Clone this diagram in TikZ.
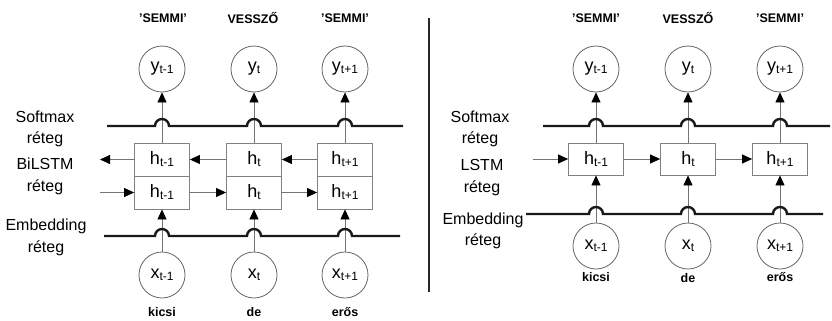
\documentclass[tikz,border=0pt]{standalone}
\usepackage{fontspec}
\setmainfont{Liberation Sans}
\usetikzlibrary{arrows.meta}
\newcommand{\sublab}[2]{{\fontsize{18}{18}\selectfont #1}{\fontsize{12}{12}\selectfont\raisebox{-2pt}{#2}}}
\newcommand{\sq}{\symbol{39}}
\begin{document}
\begin{tikzpicture}[x=1pt,y=-1pt,
  layerline/.style={line width=2.4pt, black!90},
  conn/.style={draw=black!55, line width=0.8pt},
  arr/.style={conn, -{Triangle[length=10pt,width=9pt,color=black]}},
  ucirc/.style={circle, draw=black!60, line width=0.8pt, minimum size=46pt, inner sep=0pt},
  hcell/.style={draw=black!50, line width=0.8pt, minimum width=55pt, minimum height=33pt, inner sep=0pt},
  layerlab/.style={align=center, font=\fontsize{16}{21.5}\selectfont},
  toptag/.style={font=\bfseries\fontsize{12.5}{12.5}\selectfont}]
\useasboundingbox (0,0) rectangle (832,321);

% ---------------- LEFT: BiLSTM ----------------
\node[toptag] (tl1) at (163,18) {\sq SEMMI\sq};
\node[toptag] (tl2) at (253,18) {VESSZŐ};
\node[toptag] (tl3) at (345,18) {\sq SEMMI\sq};

\node[ucirc] (yl1) at (162,69) {\sublab{y}{t-1}};
\node[ucirc] (yl2) at (254,69) {\sublab{y}{t}};
\node[ucirc] (yl3) at (345,69) {\sublab{y}{t+1}};

\node[hcell] (hbl1) at (162,159.5) {\sublab{h}{t-1}};
\node[hcell] (hbl2) at (254,159.5) {\sublab{h}{t}};
\node[hcell] (hbl3) at (345,159.5) {\sublab{h}{t+1}};
\node[hcell] (hfl1) at (162,192.5) {\sublab{h}{t-1}};
\node[hcell] (hfl2) at (254,192.5) {\sublab{h}{t}};
\node[hcell] (hfl3) at (345,192.5) {\sublab{h}{t+1}};

\node[ucirc] (xl1) at (162,275) {\sublab{x}{t-1}};
\node[ucirc] (xl2) at (254,275) {\sublab{x}{t}};
\node[ucirc] (xl3) at (345,275) {\sublab{x}{t+1}};

\node[toptag] (wl1) at (162,312) {kicsi};
\node[toptag] (wl2) at (254,312) {de};
\node[toptag] (wl3) at (345,312) {erős};

\node[layerlab] (ll1) at (45,128.7) {Softmax\\réteg};
\node[layerlab] (ll2) at (45,176.2) {BiLSTM\\réteg};
\node[layerlab] (ll3) at (46,237.2) {Embedding\\réteg};

\draw[arr] (hbl1.north) -- (yl1.south);
\draw[arr] (hbl2.north) -- (yl2.south);
\draw[arr] (hbl3.north) -- (yl3.south);
\draw[arr] (xl1.north) -- (hfl1.south);
\draw[arr] (xl2.north) -- (hfl2.south);
\draw[arr] (xl3.north) -- (hfl3.south);

\coordinate (bout) at (100,159.5);
\coordinate (fin) at (100,192.5);
\draw[arr] (hbl1.west) -- (bout);
\draw[arr] (hbl2.west) -- (hbl1.east);
\draw[arr] (hbl3.west) -- (hbl2.east);
\draw[arr] (fin) -- (hfl1.west);
\draw[arr] (hfl1.east) -- (hfl2.west);
\draw[arr] (hfl2.east) -- (hfl3.west);

\draw[layerline] (107,126) -- (155,126) arc[start angle=180,end angle=0,radius=7pt]
  -- (247,126) arc[start angle=180,end angle=0,radius=7pt]
  -- (338,126) arc[start angle=180,end angle=0,radius=7pt] -- (403,126);
\draw[layerline] (104,236) -- (155,236) arc[start angle=180,end angle=0,radius=7pt]
  -- (247,236) arc[start angle=180,end angle=0,radius=7pt]
  -- (338,236) arc[start angle=180,end angle=0,radius=7pt] -- (400,236);

% ---------------- separator ----------------
\coordinate (sept) at (429,18);
\coordinate (sepb) at (429,292);
\draw[line width=2.4pt, black!85] (sept) -- (sepb);

% ---------------- RIGHT: LSTM ----------------
\node[toptag] (tr1) at (596,18) {\sq SEMMI\sq};
\node[toptag] (tr2) at (688,18) {VESSZŐ};
\node[toptag] (tr3) at (780,18) {\sq SEMMI\sq};

\node[ucirc] (yr1) at (596,69) {\sublab{y}{t-1}};
\node[ucirc] (yr2) at (688,69) {\sublab{y}{t}};
\node[ucirc] (yr3) at (780,69) {\sublab{y}{t+1}};

\node[hcell, minimum height=32pt] (hr1) at (596,159) {\sublab{h}{t-1}};
\node[hcell, minimum height=32pt] (hr2) at (688,159) {\sublab{h}{t}};
\node[hcell, minimum height=32pt] (hr3) at (780,159) {\sublab{h}{t+1}};

\node[ucirc] (xr1) at (596,246) {\sublab{x}{t-1}};
\node[ucirc] (xr2) at (688,246) {\sublab{x}{t}};
\node[ucirc] (xr3) at (780,246) {\sublab{x}{t+1}};

\node[toptag] (wr1) at (596,277) {kicsi};
\node[toptag] (wr2) at (688,278) {de};
\node[toptag] (wr3) at (780,277) {erős};

\node[layerlab] (lr1) at (480,128.7) {Softmax\\réteg};
\node[layerlab] (lr2) at (482,177.7) {LSTM\\réteg};
\node[layerlab] (lr3) at (483,230.7) {Embedding\\réteg};

\draw[arr] (hr1.north) -- (yr1.south);
\draw[arr] (hr2.north) -- (yr2.south);
\draw[arr] (hr3.north) -- (yr3.south);
\draw[arr] (xr1.north) -- (hr1.south);
\draw[arr] (xr2.north) -- (hr2.south);
\draw[arr] (xr3.north) -- (hr3.south);

\coordinate (rin) at (533,159);
\draw[arr] (rin) -- (hr1.west);
\draw[arr] (hr1.east) -- (hr2.west);
\draw[arr] (hr2.east) -- (hr3.west);

\draw[layerline] (543,126) -- (589,126) arc[start angle=180,end angle=0,radius=7pt]
  -- (681,126) arc[start angle=180,end angle=0,radius=7pt]
  -- (773,126) arc[start angle=180,end angle=0,radius=7pt] -- (830,126);
\draw[layerline] (526,214) -- (589,214) arc[start angle=180,end angle=0,radius=7pt]
  -- (681,214) arc[start angle=180,end angle=0,radius=7pt]
  -- (773,214) arc[start angle=180,end angle=0,radius=7pt] -- (823,214);
\end{tikzpicture}
\end{document}
